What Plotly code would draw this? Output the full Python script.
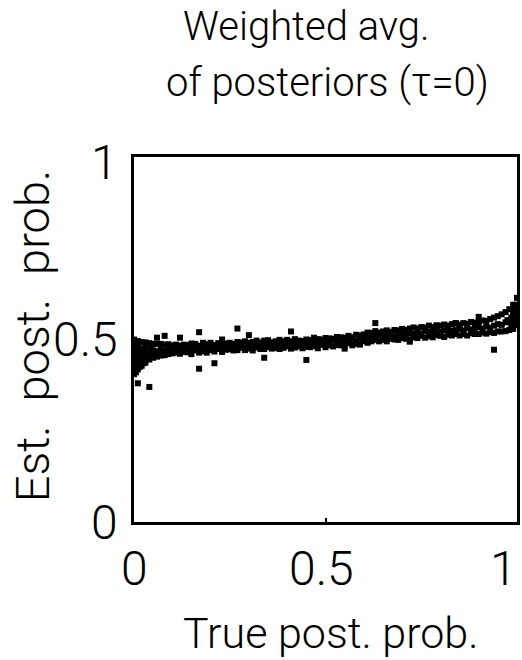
import plotly.graph_objects as go

# True posterior probability grid (one column of estimates per value)
true_post = [0.00, 0.01, 0.02, 0.03, 0.04, 0.05, 0.06, 0.07, 0.08, 0.09,
             0.10, 0.11, 0.12, 0.13, 0.14, 0.15, 0.16, 0.17, 0.18, 0.19,
             0.20, 0.21, 0.22, 0.23, 0.24, 0.25, 0.26, 0.27, 0.28, 0.29,
             0.30, 0.31, 0.32, 0.33, 0.34, 0.35, 0.36, 0.37, 0.38, 0.39,
             0.40, 0.41, 0.42, 0.43, 0.44, 0.45, 0.46, 0.47, 0.48, 0.49,
             0.50, 0.51, 0.52, 0.53, 0.54, 0.55, 0.56, 0.57, 0.58, 0.59,
             0.60, 0.61, 0.62, 0.63, 0.64, 0.65, 0.66, 0.67, 0.68, 0.69,
             0.70, 0.71, 0.72, 0.73, 0.74, 0.75, 0.76, 0.77, 0.78, 0.79,
             0.80, 0.81, 0.82, 0.83, 0.84, 0.85, 0.86, 0.87, 0.88, 0.89,
             0.90, 0.91, 0.92, 0.93, 0.94, 0.95, 0.96, 0.97, 0.98, 0.99,
             1.00]

# Estimated posterior: lower, central and upper samples of each column
est_low = [0.405, 0.418, 0.428, 0.437, 0.445, 0.450, 0.453, 0.456, 0.457, 0.460,
           0.462, 0.464, 0.461, 0.466, 0.465, 0.460, 0.470, 0.464, 0.468, 0.464,
           0.471, 0.467, 0.474, 0.466, 0.472, 0.473, 0.470, 0.471, 0.477, 0.471,
           0.475, 0.470, 0.478, 0.474, 0.474, 0.479, 0.475, 0.477, 0.474, 0.477,
           0.481, 0.475, 0.478, 0.481, 0.476, 0.480, 0.479, 0.482, 0.476, 0.485,
           0.479, 0.484, 0.481, 0.485, 0.484, 0.482, 0.490, 0.484, 0.488, 0.486,
           0.495, 0.491, 0.495, 0.499, 0.495, 0.499, 0.495, 0.502, 0.500, 0.499,
           0.504, 0.502, 0.500, 0.506, 0.504, 0.510, 0.505, 0.509, 0.506, 0.512,
           0.510, 0.507, 0.513, 0.511, 0.515, 0.511, 0.515, 0.511, 0.517, 0.515,
           0.515, 0.519, 0.516, 0.520, 0.518, 0.522, 0.522, 0.523, 0.526, 0.529,
           0.539]

est_mid = [0.450, 0.461, 0.460, 0.468, 0.464, 0.470, 0.468, 0.475, 0.470, 0.475,
           0.471, 0.475, 0.475, 0.472, 0.479, 0.474, 0.479, 0.473, 0.479, 0.475,
           0.482, 0.477, 0.477, 0.481, 0.481, 0.478, 0.485, 0.480, 0.485, 0.479,
           0.485, 0.481, 0.488, 0.483, 0.483, 0.487, 0.486, 0.483, 0.490, 0.487,
           0.486, 0.490, 0.487, 0.489, 0.486, 0.489, 0.488, 0.494, 0.490, 0.489,
           0.493, 0.492, 0.497, 0.491, 0.496, 0.493, 0.499, 0.496, 0.496, 0.502,
           0.503, 0.507, 0.503, 0.508, 0.511, 0.507, 0.510, 0.513, 0.509, 0.514,
           0.517, 0.513, 0.517, 0.516, 0.520, 0.516, 0.523, 0.521, 0.520, 0.525,
           0.521, 0.525, 0.528, 0.524, 0.526, 0.529, 0.525, 0.531, 0.528, 0.531,
           0.534, 0.530, 0.536, 0.532, 0.538, 0.542, 0.540, 0.547, 0.550, 0.554,
           0.574]

est_high = [0.500, 0.496, 0.493, 0.492, 0.490, 0.488, 0.488, 0.488, 0.486, 0.487,
            0.484, 0.486, 0.483, 0.486, 0.485, 0.489, 0.488, 0.483, 0.491, 0.487,
            0.491, 0.485, 0.490, 0.492, 0.489, 0.491, 0.488, 0.493, 0.492, 0.495,
            0.491, 0.493, 0.497, 0.492, 0.497, 0.498, 0.492, 0.495, 0.499, 0.495,
            0.499, 0.495, 0.501, 0.497, 0.496, 0.500, 0.499, 0.505, 0.501, 0.500,
            0.504, 0.503, 0.502, 0.507, 0.506, 0.505, 0.510, 0.506, 0.513, 0.511,
            0.514, 0.519, 0.518, 0.523, 0.519, 0.522, 0.525, 0.521, 0.526, 0.525,
            0.529, 0.526, 0.530, 0.533, 0.530, 0.534, 0.533, 0.538, 0.534, 0.539,
            0.538, 0.541, 0.538, 0.542, 0.544, 0.541, 0.545, 0.543, 0.548, 0.546,
            0.549, 0.552, 0.551, 0.556, 0.560, 0.564, 0.569, 0.575, 0.583, 0.595,
            0.614]

# Extra samples where the cloud is densest (near 0 and near 1) plus strays
extra_x = [0.000, 0.000, 0.000, 0.000, 0.005, 0.005, 0.005, 0.005, 0.005,
           0.010, 0.010, 0.010, 0.010, 0.015, 0.015, 0.015, 0.015,
           0.020, 0.020, 0.020, 0.025, 0.025, 0.025, 0.030, 0.030,
           0.035, 0.035, 0.045, 0.045, 0.055, 0.065,
           0.975, 0.985, 0.985, 0.990, 0.990, 0.990,
           0.995, 0.995, 0.995, 0.995, 1.000, 1.000, 1.000,
           0.010, 0.040, 0.170, 0.270, 0.170, 0.210, 0.340, 0.450,
           0.630, 0.410, 0.080, 0.120, 0.300, 0.550, 0.720, 0.940,
           0.840, 0.900, 0.060, 0.230]
extra_y = [0.420, 0.435, 0.465, 0.480, 0.410, 0.430, 0.440, 0.470, 0.490,
           0.430, 0.440, 0.470, 0.480, 0.425, 0.445, 0.460, 0.475,
           0.440, 0.450, 0.475, 0.435, 0.455, 0.470, 0.450, 0.478,
           0.455, 0.470, 0.458, 0.478, 0.460, 0.463,
           0.553, 0.535, 0.560, 0.540, 0.565, 0.575,
           0.545, 0.560, 0.580, 0.595, 0.550, 0.585, 0.595,
           0.380, 0.370, 0.520, 0.530, 0.420, 0.435, 0.450, 0.444,
           0.545, 0.522, 0.510, 0.505, 0.512, 0.475, 0.494, 0.472,
           0.545, 0.562, 0.505, 0.500]

# Axis ticks
tick_vals = [0, 0.5, 1]
tick_text = ["0", "0.5", "1"]

xs = true_post * 3 + extra_x
ys = est_low + est_mid + est_high + extra_y

fig = go.Figure()
fig.add_trace(go.Scatter(
    x=xs, y=ys, mode="markers",
    marker=dict(symbol="square", size=6, color="black", line=dict(width=0)),
    cliponaxis=False, showlegend=False, hoverinfo="skip",
))

FAMILY = "Roboto, Liberation Sans, Arial, sans-serif"
tick_font = dict(family=FAMILY, size=48, color="black", weight=300)
label_font = dict(family=FAMILY, size=43, color="black", weight=300)
ylabel_font = dict(family=FAMILY, size=47, color="black", weight=300)
title_font = dict(family=FAMILY, size=40, color="black", weight=300)

axis_common = dict(
    range=[0, 1], tickvals=tick_vals, showticklabels=False,
    ticks="inside", ticklen=4, tickwidth=2, tickcolor="black",
    showline=True, linewidth=3, linecolor="black", mirror=True,
    showgrid=False, zeroline=False, fixedrange=True,
)
fig.update_xaxes(**axis_common)
fig.update_yaxes(**axis_common)

annotations = []
# Tick labels placed on the axis scales
x_anchor = ["center", "center", "right"]
x_shift = [0, -4, 2]
for v, t, a, s in zip(tick_vals, tick_text, x_anchor, x_shift):
    annotations.append(dict(text=t, x=v, y=-0.127, xref="x", yref="paper",
                            xanchor=a, yanchor="middle", xshift=s,
                            showarrow=False, font=tick_font))
y_shift = [0, 0, -5]
for v, t, s in zip(tick_vals, tick_text, y_shift):
    annotations.append(dict(text=t, x=-0.036, y=v, xref="paper", yref="y",
                            xanchor="right", yanchor="middle", yshift=s,
                            showarrow=False, font=tick_font))

annotations += [
    dict(text="Weighted avg.", x=0.451, y=1.3575, xref="paper", yref="paper",
         xanchor="center", yanchor="middle", showarrow=False, font=title_font),
    dict(text="of posteriors (τ=0)", x=0.505, y=1.203, xref="paper", yref="paper",
         xanchor="center", yanchor="middle", showarrow=False, font=title_font),
    dict(text="True post. prob.", x=0.513, y=-0.304, xref="paper", yref="paper",
         xanchor="center", yanchor="middle", showarrow=False, font=label_font),
    dict(text="Est.\u2002post.\u2002prob.", x=-0.265, y=0.51, xref="paper", yref="paper",
         xanchor="center", yanchor="middle", textangle=-90, showarrow=False,
         font=ylabel_font),
]

fig.update_layout(
    width=522, height=660,
    margin=dict(l=134, r=2, t=157, b=138),
    paper_bgcolor="white", plot_bgcolor="white",
    annotations=annotations,
)

fig.write_html("out.html")
